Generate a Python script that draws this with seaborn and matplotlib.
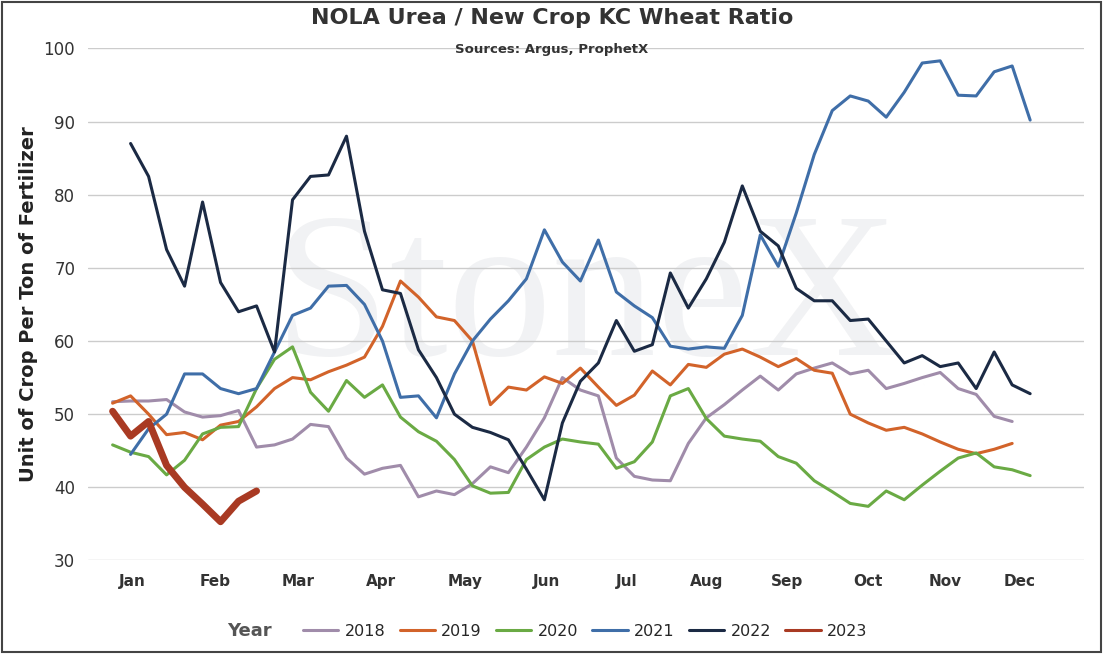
import matplotlib
matplotlib.use("Agg")
import matplotlib.pyplot as plt
import seaborn as sns
import pandas as pd

months = ["Jan","Feb","Mar","Apr","May","Jun","Jul","Aug","Sep","Oct","Nov","Dec"]
month_pos = [0.1,4.7,9.3,13.9,18.6,23.1,27.6,32.0,36.5,41.0,45.3,49.4]

v2018 = [51.7,51.8,51.8,52,50.3,49.6,49.8,50.5,45.5,45.8,46.6,48.6,48.3,44,41.8,42.6,43,38.7,39.5,39,40.5,42.8,42,45.5,49.5,55,53.3,52.5,44,41.5,41,40.9,46,49.5,51.3,53.3,55.2,53.3,55.5,56.3,57,55.5,56,53.5,54.2,55,55.7,53.5,52.7,49.7,49]
v2019 = [51.5,52.5,50,47.2,47.5,46.5,48.5,49,51,53.5,55,54.7,55.8,56.7,57.8,62,68.2,66,63.3,62.8,60,51.3,53.7,53.3,55.1,54.2,56.3,53.7,51.2,52.6,55.9,54,56.8,56.4,58.2,58.9,57.8,56.5,57.6,56,55.6,50,48.8,47.8,48.2,47.3,46.2,45.2,44.6,45.2,46]
v2020 = [45.8,44.8,44.2,41.7,43.7,47.3,48.2,48.3,53.5,57.5,59.2,53,50.4,54.6,52.3,54,49.6,47.6,46.3,43.8,40.2,39.2,39.3,43.8,45.5,46.6,46.2,45.9,42.6,43.5,46.2,52.5,53.5,49.4,47,46.6,46.3,44.2,43.3,40.9,39.4,37.8,37.4,39.5,38.3,40.3,42.2,44,44.7,42.8,42.4,41.6]
v2021 = [44.5,48,50,55.5,55.5,53.5,52.8,53.5,58.5,63.5,64.5,67.5,67.6,65,60,52.3,52.5,49.5,55.5,60,63,65.5,68.5,75.2,70.8,68.2,73.8,66.7,64.8,63.2,59.3,58.9,59.2,59,63.5,74.5,70.2,77.5,85.5,91.5,93.5,92.8,90.6,94,98,98.3,93.6,93.5,96.8,97.6,90.2]
v2022 = [87,82.5,72.5,67.5,79,68,64,64.8,58.5,79.3,82.5,82.7,88,75,67,66.5,58.8,55,50,48.2,47.5,46.5,42.5,38.3,48.8,54.5,57,62.8,58.6,59.5,69.3,64.5,68.5,73.5,81.2,75,73,67.2,65.5,65.5,62.8,63,60,57,58,56.5,57,53.5,58.5,54,52.8]
v2023 = [50.4,47,49,43,40,37.7,35.3,38.1,39.5]

series = {"2018": (v2018, -1), "2019": (v2019, -1), "2020": (v2020, -1),
          "2021": (v2021, 0), "2022": (v2022, 0), "2023": (v2023, -1)}
rows = []
for yr, (vals, start) in series.items():
    for i, v in enumerate(vals):
        rows.append({"Year": yr, "week": start + i, "value": v})
df = pd.DataFrame(rows)

palette = {"2018": "#A08CAA", "2019": "#D2632A", "2020": "#6AAA44",
           "2021": "#3F6EA8", "2022": "#1B2A44", "2023": "#A93A23"}

sns.set_theme(style="white")
plt.rcParams['font.family'] = ['DejaVu Sans']
fig = plt.figure(figsize=(11.04, 6.54), dpi=100)
ax = fig.add_axes([0.08, 0.143, 0.902, 0.783])

ax.text(0.5, 0.5, "StoneX", transform=ax.transAxes, fontsize=150, color="#1B2A44",
        alpha=0.06, ha="center", va="center", family="Liberation Serif", zorder=0)

sns.lineplot(data=df, x="week", y="value", hue="Year", palette=palette, ax=ax,
             linewidth=2.2, legend=False)
lines = [l for l in ax.get_lines()]
lines[-1].set_linewidth(5)

ax.set_xlim(-2.35, 53.0)
ax.set_ylim(30, 100)
ax.set_yticks(range(30, 101, 10))
ax.set_xticks(month_pos)
ax.set_xticklabels(months, fontsize=11, fontweight="bold", color="#333333")
ax.tick_params(axis="y", labelsize=12, colors="#333333")
ax.tick_params(axis="x", length=0, pad=10)
ax.grid(axis="y", color="#CCCCCC", linewidth=1)
for s in ax.spines.values():
    s.set_visible(False)
ax.set_xlabel("")
ax.set_ylabel("Unit of Crop Per Ton of Fertilizer", fontsize=14, fontweight="bold", color="#222222")

fig.text(0.5, 0.972, "NOLA Urea / New Crop KC Wheat Ratio", ha="center", va="center",
         fontsize=16, fontweight="bold", color="#333333")
fig.text(0.5, 0.925, "Sources: Argus, ProphetX", ha="center", va="center",
         fontsize=9.5, fontweight="bold", color="#333333")

handles = [plt.Line2D([], [], color=palette[y], linewidth=2.2) for y in palette]
fig.legend(handles, list(palette), loc="center", bbox_to_anchor=(0.53, 0.035), ncol=6,
           frameon=False, fontsize=11.5, handlelength=2.2, handletextpad=0.4,
           columnspacing=0.9)
fig.text(0.226, 0.035, "Year", ha="center", va="center", fontsize=13, fontweight="bold", color="#555555")

fig.patches.append(plt.Rectangle((0.002, 0.003), 0.995, 0.994, transform=fig.transFigure,
                                 fill=False, edgecolor="#444444", linewidth=1.5))
fig.savefig("out.png", dpi=100)
